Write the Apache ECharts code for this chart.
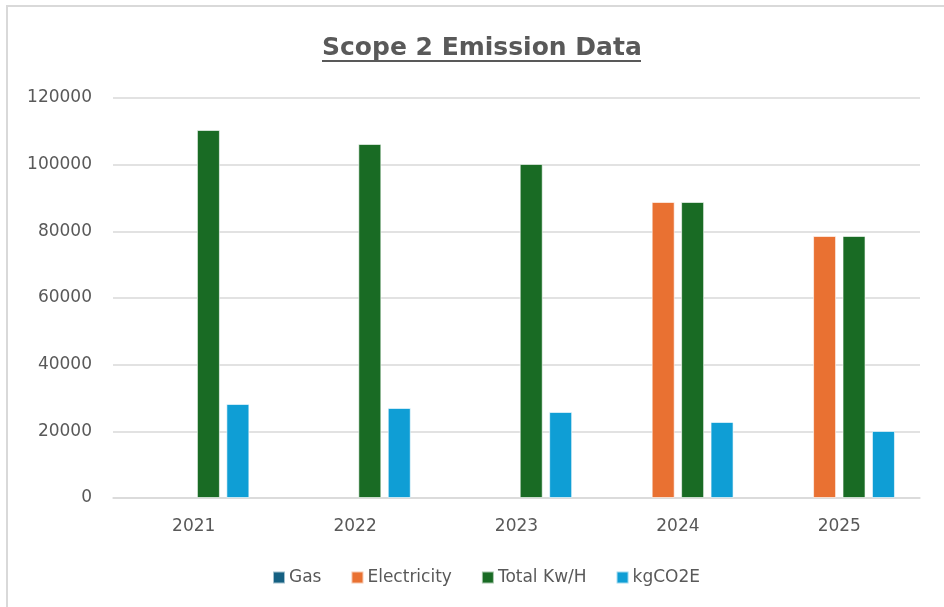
<!DOCTYPE html>
<html>
<head>
<meta charset="utf-8">
<script src="https://cdn.jsdelivr.net/npm/echarts@6/dist/echarts.min.js"></script>
<style>
html,body{margin:0;padding:0;background:#fff;}
#chart{width:944px;height:607px;}
</style>
</head>
<body>
<div id="chart"></div>
<script>
const categories = ['2021', '2022', '2023', '2024', '2025'];
const gas = [null, null, null, null, null];
const electricity = [null, null, null, 88800, 78600];
const totalKwh = [110400, 106200, 100200, 88800, 78600];
const kgCO2E = [28200, 27000, 25800, 22800, 20100];
const yTicks = [0, 20000, 40000, 60000, 80000, 100000, 120000];

const chart = echarts.init(document.getElementById('chart'));
const font = '"DejaVu Sans", sans-serif';
const txt = '#595959';
function bar(name, data, color) {
  return {
    name: name, type: 'bar', data: data,
    barWidth: 23, barGap: '28%',
    itemStyle: { color: color, borderColor: 'rgba(255,255,255,0.6)', borderWidth: 1 }
  };
}
chart.setOption({
  animation: false,
  backgroundColor: '#fff',
  title: {
    text: 'Scope 2 Emission Data',
    left: 317, top: 31,
    textStyle: { fontFamily: font, fontSize: 25, fontWeight: 'bold', color: txt }
  },
  graphic: [
    { type: 'rect', shape: { x: 7, y: 6, width: 960, height: 640 }, style: { fill: 'none', stroke: '#d9d9d9', lineWidth: 2 }, silent: true },
    { type: 'line', shape: { x1: 322, y1: 61, x2: 641, y2: 61 }, style: { stroke: txt, lineWidth: 2 }, silent: true }
  ],
  legend: {
    top: 564, left: 267,
    itemWidth: 12, itemHeight: 12, itemGap: 29,
    icon: 'rect',
    textStyle: { fontFamily: font, fontSize: 17, color: txt, padding: [0, 0, 0, -1] },
    data: ['Gas', 'Electricity', 'Total Kw/H', 'kgCO2E']
  },
  grid: { left: 113, right: 24, top: 98, bottom: 109 },
  xAxis: {
    type: 'category', data: categories,
    axisLine: { lineStyle: { color: '#d9d9d9', width: 1.5 } },
    axisTick: { show: false },
    axisLabel: { fontFamily: font, fontSize: 17, color: txt, margin: 20 }
  },
  yAxis: {
    type: 'value', min: 0, max: 120000, interval: 20000,
    axisLine: { show: false }, axisTick: { show: false },
    splitLine: { lineStyle: { color: '#d9d9d9', width: 1.5 } },
    axisLabel: { fontFamily: font, fontSize: 17, color: txt, margin: 21,
      formatter: v => yTicks.includes(v) ? String(v) : '' }
  },
  series: [
    bar('Gas', gas, '#156082'),
    bar('Electricity', electricity, '#E97132'),
    bar('Total Kw/H', totalKwh, '#196B24'),
    bar('kgCO2E', kgCO2E, '#0F9ED5')
  ]
});
</script>
</body>
</html>
